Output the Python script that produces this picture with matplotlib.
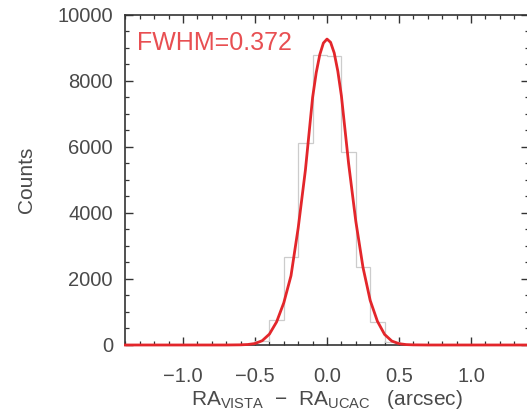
import numpy as np
import matplotlib
matplotlib.use("Agg")
import matplotlib.pyplot as plt

plt.rcParams['font.family'] = ['Liberation Sans', 'DejaVu Sans']
plt.rcParams['mathtext.fontset'] = 'custom'
plt.rcParams['mathtext.rm'] = 'Liberation Sans'
plt.rcParams['mathtext.it'] = 'Liberation Sans'

# histogram (bin edges in arcsec, counts per bin)
bin_edges = [-0.6, -0.5, -0.4, -0.3, -0.2, -0.1, 0.0, 0.1, 0.2, 0.3, 0.4, 0.5, 0.6]
bin_counts = [10, 120, 760, 2670, 6120, 8800, 8750, 5850, 2350, 700, 90, 10]

# gaussian fit curve
fit_x = [-1.4, -0.7, -0.6, -0.55, -0.5, -0.45, -0.4, -0.35, -0.3, -0.25, -0.2,
         -0.15, -0.1, -0.075, -0.05, -0.025, 0.0, 0.025, 0.05, 0.075, 0.1, 0.15,
         0.2, 0.25, 0.3, 0.35, 0.4, 0.45, 0.5, 0.55, 0.6, 0.7, 1.4]
fit_y = [0, 0, 5, 15, 45, 130, 330, 700, 1280, 2100, 3550,
         5300, 7500, 8250, 8800, 9150, 9270, 9170, 8850, 8300, 7550, 5500,
         3750, 2350, 1350, 720, 320, 120, 40, 12, 4, 0, 0]

fwhm_label = "FWHM=0.372"
xticks = [-1.0, -0.5, 0.0, 0.5, 1.0]
yticks = [0, 2000, 4000, 6000, 8000, 10000]

fig = plt.figure(figsize=(5.27, 4.11), dpi=100)
ax = fig.add_axes([0.238, 0.1606, 0.765, 0.803])

ax.stairs(bin_counts, bin_edges, color='#cccccc', lw=0.9, zorder=2)
ax.plot(fit_x, fit_y, color='#e3262b', lw=2.0, zorder=3, clip_on=False)

ax.text(0.029, 0.894, fwhm_label, transform=ax.transAxes, color='#e84f52',
        fontsize=18, ha='left', va='baseline')

ax.set_xlim(-1.4, 1.4)
ax.set_ylim(0, 10000)
ax.set_xticks(xticks)
ax.set_xticks(np.arange(-1.4, 1.41, 0.1), minor=True)
ax.set_yticks(yticks)
ax.set_yticks(np.arange(0, 10001, 500), minor=True)
ax.set_xticklabels([f"{v:.1f}".replace("-", "\u2212") for v in xticks])

ax.tick_params(which='both', direction='in', top=True, right=True,
               color='#333333', labelcolor='#4a4a4a', labelsize=14.5)
ax.tick_params(which='major', length=6, width=1.0)
ax.tick_params(which='minor', length=3, width=0.9)
ax.tick_params(axis='x', pad=16)
ax.tick_params(axis='y', pad=9)
for s in ax.spines.values():
    s.set_color('#333333')
    s.set_linewidth(1.2)

ax.set_ylabel("Counts", fontsize=15, color='#4a4a4a', labelpad=15)
ax.set_xlabel(r"RA$_{\rm VISTA}$  $-$  RA$_{\rm UCAC}$   (arcsec)", fontsize=15,
              color='#4a4a4a', labelpad=1)

fig.savefig("out.png", dpi=100)
